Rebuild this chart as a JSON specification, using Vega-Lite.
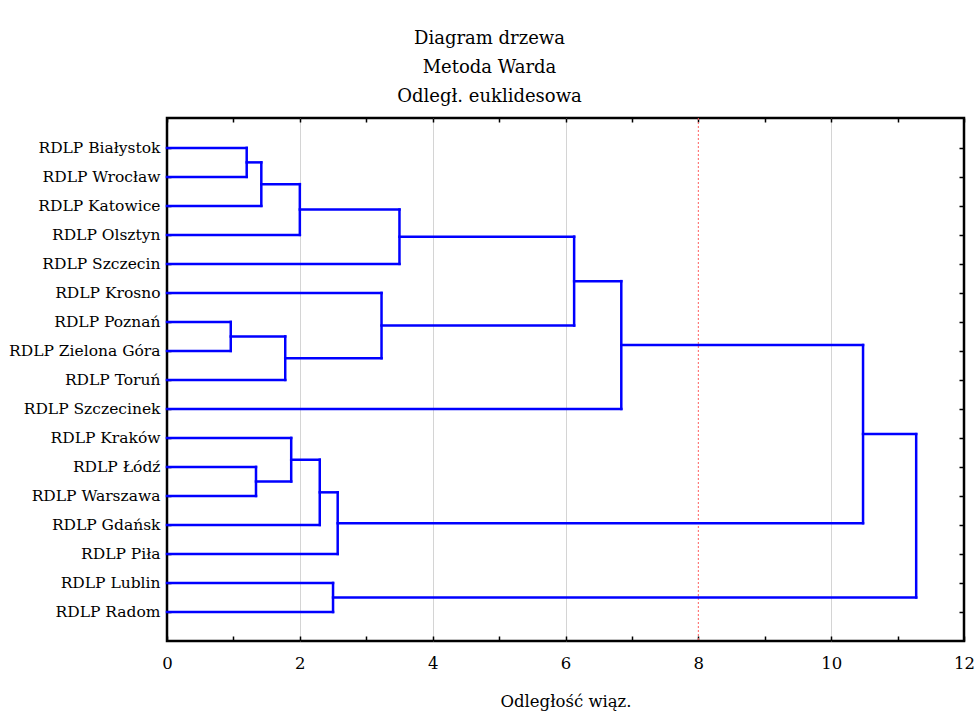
{
  "$schema": "https://vega.github.io/schema/vega-lite/v6.json",
  "width": 797,
  "height": 523,
  "autosize": {"type": "none"},
  "padding": {"left": 167, "top": 118, "right": 15, "bottom": 72},
  "background": "white",
  "config": {
    "font": "DejaVu Serif",
    "view": {"stroke": "black", "strokeWidth": 2.5},
    "axis": {"domain": false, "tickColor": "black", "labelColor": "black", "titleColor": "black", "titleFontWeight": "normal", "labelFont": "DejaVu Serif", "titleFont": "DejaVu Serif"},
    "title": {"font": "DejaVu Serif"}
  },
  "title": {
    "text": ["Diagram drzewa", "Metoda Warda", "Odległ. euklidesowa"],
    "font": "DejaVu Serif",
    "fontSize": 18,
    "fontWeight": "normal",
    "color": "black",
    "lineHeight": 29,
    "anchor": "middle",
    "dx": -76,
    "offset": 11
  },
  "datasets": {
    "merges": [
      {"node": 1, "ya": 0, "yb": 1, "ha": 0, "hb": 0, "h": 1.2},
      {"node": 2, "ya": 0.5, "yb": 2, "ha": 1.2, "hb": 0, "h": 1.42},
      {"node": 3, "ya": 1.25, "yb": 3, "ha": 1.42, "hb": 0, "h": 2.0},
      {"node": 4, "ya": 2.125, "yb": 4, "ha": 2.0, "hb": 0, "h": 3.5},
      {"node": 5, "ya": 6, "yb": 7, "ha": 0, "hb": 0, "h": 0.96},
      {"node": 6, "ya": 6.5, "yb": 8, "ha": 0.96, "hb": 0, "h": 1.78},
      {"node": 7, "ya": 5, "yb": 7.25, "ha": 0, "hb": 1.78, "h": 3.23},
      {"node": 8, "ya": 3.0625, "yb": 6.125, "ha": 3.5, "hb": 3.23, "h": 6.13},
      {"node": 9, "ya": 4.59375, "yb": 9, "ha": 6.13, "hb": 0, "h": 6.84},
      {"node": 10, "ya": 11, "yb": 12, "ha": 0, "hb": 0, "h": 1.34},
      {"node": 11, "ya": 10, "yb": 11.5, "ha": 0, "hb": 1.34, "h": 1.87},
      {"node": 12, "ya": 10.75, "yb": 13, "ha": 1.87, "hb": 0, "h": 2.3},
      {"node": 13, "ya": 11.875, "yb": 14, "ha": 2.3, "hb": 0, "h": 2.57},
      {"node": 14, "ya": 15, "yb": 16, "ha": 0, "hb": 0, "h": 2.5},
      {"node": 15, "ya": 6.796875, "yb": 12.9375, "ha": 6.84, "hb": 2.57, "h": 10.48},
      {"node": 16, "ya": 9.8671875, "yb": 15.5, "ha": 10.48, "hb": 2.5, "h": 11.28}
    ],
    "cutoff": [{"distance": 8}]
  },
  "resolve": {"axis": {"x": "independent", "y": "independent"}},
  "layer": [
    {
      "data": {"name": "cutoff"},
      "mark": {"type": "rule", "color": "#ff6060", "strokeDash": [2, 2], "strokeWidth": 1},
      "encoding": {
        "x": {"field": "distance", "type": "quantitative", "scale": {"domain": [0, 12], "nice": false, "zero": false}, "axis": null}
      }
    },
    {
      "data": {"name": "merges"},
      "mark": {"type": "rule", "color": "#0000ff", "strokeWidth": 2.5, "strokeCap": "square"},
      "encoding": {
        "x": {
          "field": "h", "type": "quantitative",
          "scale": {"domain": [0, 12], "nice": false, "zero": false},
          "axis": {
            "orient": "bottom",
            "values": [0, 1, 2, 3, 4, 5, 6, 7, 8, 9, 10, 11, 12],
            "labelExpr": "datum.value % 2 == 0 ? datum.label : ''",
            "labelFlush": false,
            "tickSize": -5,
            "tickWidth": 1.5,
            "labelFontSize": 16.5,
            "labelPadding": 19,
            "grid": true,
            "gridColor": "#d4d4d4",
            "gridWidth": 1,
            "gridOpacity": {"condition": {"test": "datum.value % 2 == 0 && datum.value != 8 && datum.value > 0 && datum.value < 12", "value": 1}, "value": 0},
            "title": "Odległość wiąz.",
            "titleFontSize": 16.5,
            "titlePadding": 22
          }
        },
        "y": {
          "field": "ya", "type": "quantitative",
          "scale": {"domain": [-1.03, 17], "reverse": true, "nice": false, "zero": false},
          "axis": {
            "orient": "left",
            "values": [0, 1, 2, 3, 4, 5, 6, 7, 8, 9, 10, 11, 12, 13, 14, 15, 16],
            "labelExpr": "['RDLP Białystok','RDLP Wrocław','RDLP Katowice','RDLP Olsztyn','RDLP Szczecin','RDLP Krosno','RDLP Poznań','RDLP Zielona Góra','RDLP Toruń','RDLP Szczecinek','RDLP Kraków','RDLP Łódź','RDLP Warszawa','RDLP Gdańsk','RDLP Piła','RDLP Lublin','RDLP Radom'][datum.value]",
            "labelFlush": false,
            "tickSize": -4,
            "tickWidth": 1.5,
            "labelFontSize": 15.5,
            "labelPadding": 11,
            "grid": false,
            "title": null
          }
        },
        "y2": {"field": "yb"}
      }
    },
    {
      "data": {"name": "merges"},
      "mark": {"type": "rule", "color": "#0000ff", "strokeWidth": 2.5, "strokeCap": "square"},
      "encoding": {
        "x": {
          "field": "ha", "type": "quantitative",
          "scale": {"domain": [0, 12], "nice": false, "zero": false},
          "axis": {
            "orient": "top",
            "values": [0, 1, 2, 3, 4, 5, 6, 7, 8, 9, 10, 11, 12],
            "labels": false,
            "tickSize": -4,
            "tickWidth": 1.5,
            "grid": false,
            "title": null
          }
        },
        "x2": {"field": "h"},
        "y": {
          "field": "ya", "type": "quantitative",
          "scale": {"domain": [-1.03, 17], "reverse": true, "nice": false, "zero": false},
          "axis": {
            "orient": "right",
            "values": [0, 1, 2, 3, 4, 5, 6, 7, 8, 9, 10, 11, 12, 13, 14, 15, 16],
            "labels": false,
            "tickSize": -5,
            "tickWidth": 1.5,
            "grid": false,
            "title": null
          }
        }
      }
    },
    {
      "data": {"name": "merges"},
      "mark": {"type": "rule", "color": "#0000ff", "strokeWidth": 2.5, "strokeCap": "square"},
      "encoding": {
        "x": {"field": "hb", "type": "quantitative", "scale": {"domain": [0, 12], "nice": false, "zero": false}, "axis": null},
        "x2": {"field": "h"},
        "y": {"field": "yb", "type": "quantitative", "scale": {"domain": [-1.03, 17], "reverse": true, "nice": false, "zero": false}, "axis": null}
      }
    }
  ]
}
